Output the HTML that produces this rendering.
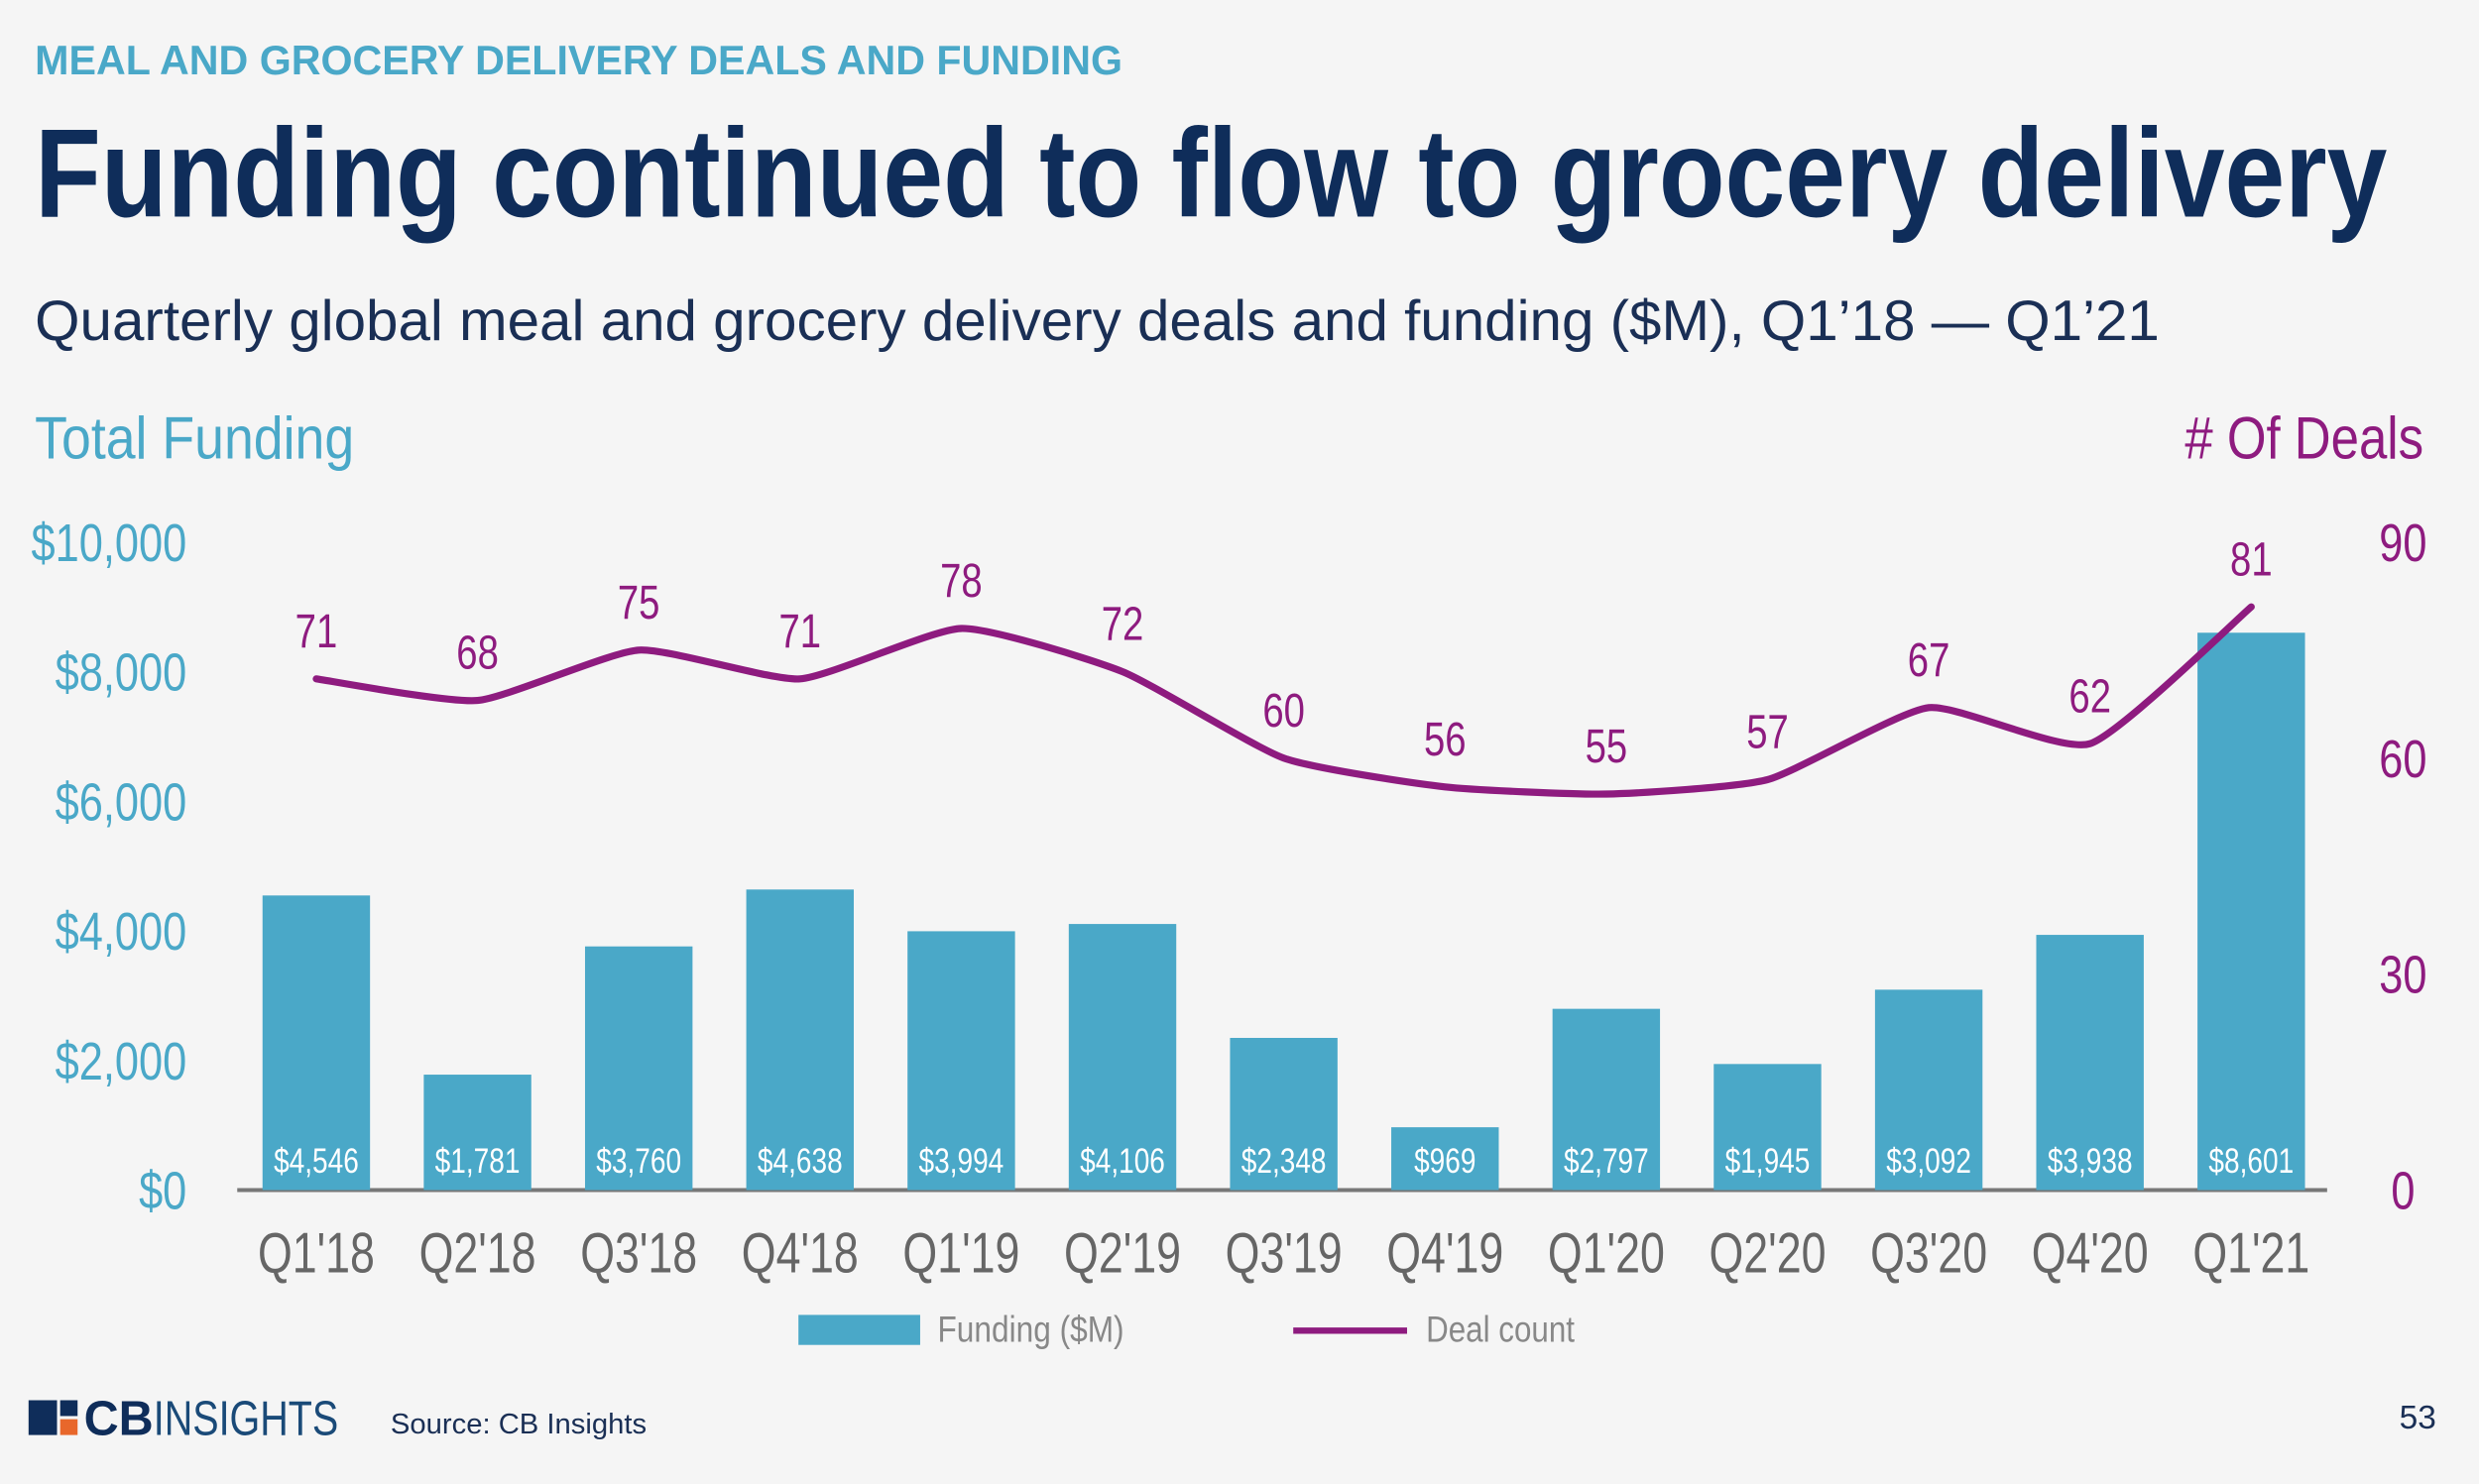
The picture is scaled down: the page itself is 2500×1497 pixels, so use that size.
<!DOCTYPE html>
<html><head><meta charset="utf-8"><style>
html,body{margin:0;padding:0;background:#f5f5f5;}
svg{display:block;}
text{font-family:"Liberation Sans",sans-serif;}
</style></head><body>
<svg id="chart" width="2500" height="1497" viewBox="0 0 1568 939" xmlns="http://www.w3.org/2000/svg">
<rect width="1568" height="939" fill="#f5f5f5"/>
<text x="22" y="47" font-size="26" font-weight="bold" fill="#4aa8c8" textLength="688" lengthAdjust="spacingAndGlyphs">MEAL AND GROCERY DELIVERY DEALS AND FUNDING</text>
<text x="22" y="137" font-size="80" font-weight="bold" fill="#0f2d5a" textLength="1488" lengthAdjust="spacingAndGlyphs">Funding continued to flow to grocery delivery</text>
<text x="22" y="215" font-size="36" fill="#1a2f55" textLength="1344" lengthAdjust="spacingAndGlyphs">Quarterly global meal and grocery delivery deals and funding ($M), Q1’18 — Q1’21</text>
<text x="22" y="290" font-size="38" fill="#4aa8c8" textLength="202" lengthAdjust="spacingAndGlyphs">Total Funding</text>
<text x="1382" y="290" font-size="38" fill="#8e1b7f" textLength="151" lengthAdjust="spacingAndGlyphs"># Of Deals</text>
<g id="axes"></g>
<g id="bars"></g>
<g id="line"></g>
<g>
<rect x="505" y="832" width="77" height="19" fill="#4aa8c8"/>
<text x="593" y="849" font-size="23" fill="#888" textLength="118" lengthAdjust="spacingAndGlyphs">Funding ($M)</text>
<line x1="818" y1="842" x2="890" y2="842" stroke="#8e1b7f" stroke-width="4"/>
<text x="902" y="849" font-size="23" fill="#888" textLength="94" lengthAdjust="spacingAndGlyphs">Deal count</text>
</g>
<g>
<rect x="18" y="886" width="18" height="22" fill="#0f2d5a"/>
<rect x="38" y="886" width="11" height="10" fill="#0f2d5a"/>
<rect x="38" y="898" width="11" height="10" fill="#e8672b"/>
<text x="53" y="908" font-size="31" font-weight="bold" fill="#0f2d5a" textLength="44" lengthAdjust="spacingAndGlyphs">CB</text>
<text x="97" y="908" font-size="31" fill="#1a4a78" textLength="117" lengthAdjust="spacingAndGlyphs">INSIGHTS</text>
</g>
<text x="247" y="907" font-size="18" fill="#1a2f55" textLength="162" lengthAdjust="spacingAndGlyphs">Source: CB Insights</text>
<text x="1541" y="904" font-size="21" fill="#1a2f55" text-anchor="end">53</text>
</svg>
<script>
const categories = ["Q1'18","Q2'18","Q3'18","Q4'18","Q1'19","Q2'19","Q3'19","Q4'19","Q1'20","Q2'20","Q3'20","Q4'20","Q1'21"];
const funding = [4546,1781,3760,4638,3994,4106,2348,969,2797,1945,3092,3938,8601];
const deals = [71,68,75,71,78,72,60,56,55,57,67,62,81];
const fundingTicks = [0,2000,4000,6000,8000,10000];
const dealTicks = [0,30,60,90];
const NS = "http://www.w3.org/2000/svg";
const y0 = 753, yTop = 343;
const yF = v => y0 - v / 10000 * (y0 - yTop);
const yD = v => y0 - v / 90 * (y0 - yTop);
const xC = i => 200 + i * 102;
function mk(tag, attrs, parent, txt){const e=document.createElementNS(NS,tag);for(const k in attrs)e.setAttribute(k,attrs[k]);if(txt!==undefined)e.textContent=txt;parent.appendChild(e);return e;}
function squeeze(e,f){const w=e.getComputedTextLength();e.setAttribute('textLength',(w*f).toFixed(1));e.setAttribute('lengthAdjust','spacingAndGlyphs');}
const axes=document.getElementById('axes'), bars=document.getElementById('bars'), line=document.getElementById('line');
fundingTicks.forEach(t=>{
  const e=mk('text',{x:118,y:yF(t)+12,'font-size':34,fill:'#4aa8c8','text-anchor':'end'},axes,'$'+t.toLocaleString('en-US'));
  
  
  squeeze(e,0.8);
});
dealTicks.forEach(t=>{
  const e=mk('text',{x:1520,y:yD(t)+12,'font-size':34,fill:'#8e1b7f','text-anchor':'middle'},axes,String(t));
  
  
  squeeze(e,0.8);
});
categories.forEach((c,i)=>{
  const e=mk('text',{x:xC(i),y:805,'font-size':36,fill:'#666','text-anchor':'middle'},axes,c);
  
  
  squeeze(e,0.78);
});
funding.forEach((v,i)=>{
  const r=mk('rect',{x:xC(i)-34,y:yF(v),width:68,height:y0-yF(v),fill:'#4aa8c8'},bars);
  
  
  const t=mk('text',{x:xC(i),y:742,'font-size':22,fill:'#fff','text-anchor':'middle'},bars,'$'+v.toLocaleString('en-US'));
  
  
  squeeze(t,0.8);
});
const base=mk('line',{x1:150,y1:y0,x2:1472,y2:y0,stroke:'#777','stroke-width':2.5},axes);


const pts=deals.map((d,i)=>[xC(i),yD(d)]);
let d='M'+pts[0][0]+','+pts[0][1];
for(let i=0;i<pts.length-1;i++){
  const p0=pts[Math.max(0,i-1)],p1=pts[i],p2=pts[i+1],p3=pts[Math.min(pts.length-1,i+2)];
  const k=0.09;
  d+=' C'+(p1[0]+(p2[0]-p0[0])*k)+','+(p1[1]+(p2[1]-p0[1])*k)+' '+(p2[0]-(p3[0]-p1[0])*k)+','+(p2[1]-(p3[1]-p1[1])*k)+' '+p2[0]+','+p2[1];
}
const path=mk('path',{d:d,fill:'none',stroke:'#8e1b7f','stroke-width':4.5,'stroke-linecap':'round','stroke-linejoin':'round'},line);


deals.forEach((v,i)=>{
  const t=mk('text',{x:xC(i),y:yD(v)-20,'font-size':30,fill:'#8e1b7f','text-anchor':'middle'},line,String(v));
  
  
  squeeze(t,0.8);
});
</script>
</body></html>
